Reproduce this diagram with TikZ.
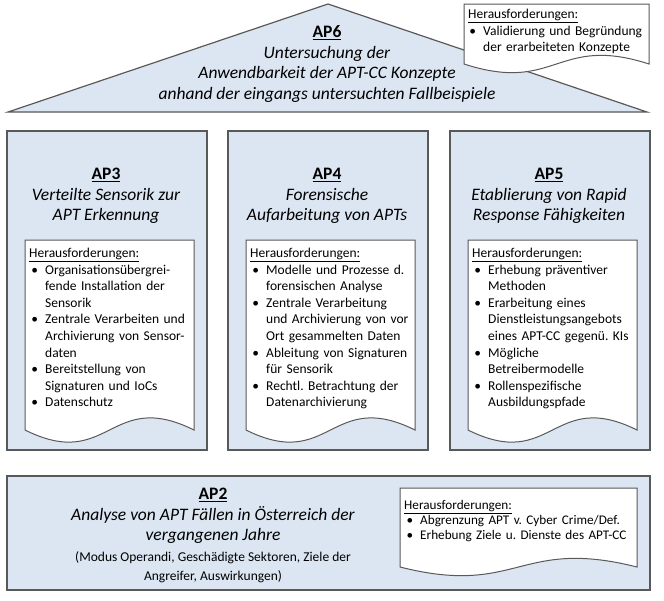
\documentclass[tikz,border=0pt]{standalone}
\usepackage{fontspec}
\setmainfont{Carlito}
\usepackage{xcolor}
\usepackage{enumitem}
\usetikzlibrary{positioning}

\definecolor{apfill}{RGB}{220,230,242}
\definecolor{apline}{RGB}{89,89,89}

\begin{document}
\frenchspacing
\begin{tikzpicture}
		[x=1pt, y=-1pt,
			roof/.style ={draw=apline, fill=apfill, line width=1.2pt, line join=miter},
 wpbox/.style ={rectangle, draw=apline, fill=apfill, line width=1.3pt, inner sep=0pt},
 doc/.style ={draw=apline, fill=white, line width=1pt},
 title/.style ={align=center, inner sep=0pt, font=\fontsize{17.5}{20.5}\selectfont},
 note/.style ={align=center, inner sep=0pt, font=\fontsize{13.5}{19}\selectfont},
 chall/.style ={anchor=north west, inner sep=0pt, text width=260pt, align=left,
 font=\fontsize{13.5}{16.6}\selectfont}]
		\useasboundingbox (0,0) rectangle (664,600);
%		% AP6 roof
		\draw[roof] (8,112) coordinate (roofL) -- (328,4) coordinate (roofT)
			-- (647,112) coordinate (roofR) -- cycle;
		\node[title] (ap6) at (327,64) {\underline{\textbf{AP6}}\\
			\textit{Untersuchung der}\\
			\textit{Anwendbarkeit der APT-CC Konzepte}\\
			\textit{anhand der eingangs untersuchten Fallbeispiele}};
		\draw[doc] (464,4) -- (649,4) -- (649,64)
			.. controls (556.5,34) and (556.5,94) .. (464,64) -- cycle;
		\node[chall] (ch6) at (468,9) {\underline{Herausforderungen:}
			\begin{itemize}[nosep,leftmargin=15pt,labelsep=7pt]
			\item Validierung und Begründung\\der erarbeiteten Konzepte
			\end{itemize}};
%		% AP3 - AP5 columns
		\path 	(107,290.5) node[wpbox, minimum width=200pt, minimum height=319pt] (ap3) {}
			(328,290.5) node[wpbox, minimum width=200pt, minimum height=319pt] (ap4) {}
			(550,290.5) node[wpbox, minimum width=200pt, minimum height=319pt] (ap5) {};
		\node[title] (t3) at (106,196) {\underline{\textbf{AP3}}\\
			\textit{Verteilte Sensorik zur}\\\textit{APT Erkennung}};
		\node[title] (t4) at (327,196) {\underline{\textbf{AP4}}\\
			\textit{Forensische}\\\textit{Aufarbeitung von APTs}};
		\node[title] (t5) at (549,196) {\underline{\textbf{AP5}}\\
			\textit{Etablierung von Rapid}\\\textit{Response Fähigkeiten}};
		\draw[doc] (25,240) -- (194,240) -- (194,430)
			.. controls (109.5,388) and (109.5,472) .. (25,430) -- cycle;
		\draw[doc] (246,240) -- (415,240) -- (415,430)
			.. controls (330.5,388) and (330.5,472) .. (246,430) -- cycle;
		\draw[doc] (468,240) -- (637,240) -- (637,430)
			.. controls (552.5,388) and (552.5,472) .. (468,430) -- cycle;
		\node[chall] (ch3) at (29,248) {\underline{Herausforderungen:}
			\begin{itemize}[nosep,leftmargin=16pt,labelsep=7pt]
			\item Organisationsübergrei-\\fende Installation der\\Sensorik
			\item Zentrale Verarbeiten und\\Archivierung von Sensor-\\daten
			\item Bereitstellung von\\Signaturen und IoCs
			\item Datenschutz
			\end{itemize}};
		\node[chall] (ch4) at (250,248) {\underline{Herausforderungen:}
			\begin{itemize}[nosep,leftmargin=16pt,labelsep=7pt]
			\item Modelle und Prozesse d.\\forensischen Analyse
			\item Zentrale Verarbeitung\\und Archivierung von vor\\Ort gesammelten Daten
			\item Ableitung von Signaturen\\für Sensorik
			\item Rechtl. Betrachtung der\\Datenarchivierung
			\end{itemize}};
		\node[chall] (ch5) at (472,248) {\underline{Herausforderungen:}
			\begin{itemize}[nosep,leftmargin=16pt,labelsep=7pt]
			\item Erhebung präventiver\\Methoden
			\item Erarbeitung eines\\Dienstleistungsangebots\\eines APT-CC gegenü. KIs
			\item Mögliche\\Betreibermodelle
			\item Rollenspezifische\\Ausbildungspfade
			\end{itemize}};
%		% AP2 base
		\node[wpbox, minimum width=643pt, minimum height=114pt] (ap2) at (328.5,533) {};
		\node[title] (t2) at (213,516) {\underline{\textbf{AP2}}\\
			\textit{Analyse von APT Fällen in Österreich der}\\\textit{vergangenen Jahre}};
		\node[note, below=7pt of t2] (n2) {(Modus Operandi, Geschädigte Sektoren, Ziele der\\
			Angreifer, Auswirkungen)};
		\draw[doc] (400,488) -- (637,488) -- (637,567)
			.. controls (518.5,537) and (518.5,597) .. (400,567) -- cycle;
		\node[chall, font=\fontsize{13.2}{15}\selectfont] (ch2) at (404,500) {\underline{Herausforderungen:}
			\begin{itemize}[nosep,leftmargin=16pt,labelsep=7pt]
			\item Abgrenzung APT v. Cyber Crime/Def.
			\item Erhebung Ziele u. Dienste des APT-CC
			\end{itemize}};
	\end{tikzpicture}
\end{document}
